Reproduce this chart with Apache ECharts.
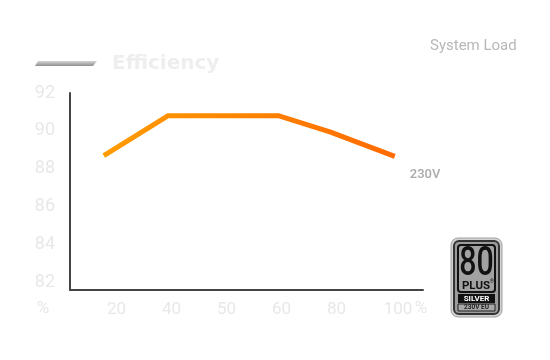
<!DOCTYPE html>
<html>
<head>
<meta charset="utf-8">
<script src="https://cdn.jsdelivr.net/npm/echarts@6/dist/echarts.min.js"></script>
<style>html,body{margin:0;padding:0;background:#fff;}#c{width:550px;height:360px;}</style>
</head>
<body>
<div id="c"></div>
<script>
// x labels (category positions 0..5 on the load axis)
var xLabels = ['20', '40', '50', '60', '80', '100'];
var xTickPos = [0, 1, 2, 3, 4, 5];
var yTicks = [82, 84, 86, 88, 90, 92];
// line points: [position on load axis, efficiency %]
var loadPos = [-0.23, 0.94, 2.94, 3.88, 5.06];
var efficiency = [88.7, 90.8, 90.8, 89.95, 88.65];
var seriesName = 'Efficiency';
var endText = '230V';

var chart = echarts.init(document.getElementById('c'), null, {renderer: 'canvas'});
var pts = loadPos.map(function (x, i) { return [x, efficiency[i]]; });

chart.setOption({
  animation: false,
  backgroundColor: '#ffffff',
  title: {
    text: seriesName,
    left: 112, top: 54, padding: 0,
    textStyle: {color: '#eeeeee', fontSize: 20, fontWeight: 'bold', fontFamily: 'DejaVu Sans'}
  },
  grid: {left: 70, right: 127, top: 93, bottom: 70, containLabel: false},
  xAxis: {
    type: 'value', min: -0.845, max: 5.573,
    axisLine: {show: true, onZero: false, lineStyle: {color: '#444444', width: 2}},
    axisTick: {show: false},
    splitLine: {show: false},
    axisLabel: {
      customValues: xTickPos,
      color: '#e8e8e8', fontSize: 17, fontFamily: 'Roboto', margin: 11,
      formatter: function (v) {
        var i = Math.round(v);
        if (i === xLabels.length - 1) return '{b|' + xLabels[i] + '}';
        return xLabels[i];
      },
      rich: {b: {color: '#e8e8e8', fontSize: 17, fontFamily: 'Roboto', padding: [0, 0, 0, 13]}}
    }
  },
  yAxis: {
    type: 'value', min: 81.6, max: 92,
    axisLine: {show: true, onZero: false, lineStyle: {color: '#444444', width: 2}},
    axisTick: {show: false},
    splitLine: {show: false},
    axisLabel: {
      customValues: yTicks,
      color: '#e8e8e8', fontSize: 18, fontFamily: 'Roboto', margin: 15
    }
  },
  series: [{
    name: seriesName,
    type: 'line',
    data: pts,
    symbol: 'none',
    lineStyle: {
      width: 5,
      color: new echarts.graphic.LinearGradient(0, 0, 1, 0, [
        {offset: 0, color: '#ff9c00'},
        {offset: 1, color: '#ff6a00'}
      ])
    },
    endLabel: {
      show: true, formatter: endText,
      color: '#aaaaaa', fontSize: 13, fontWeight: 500, fontFamily: 'Roboto',
      distance: 0, offset: [15, 18]
    }
  }],
  graphic: [
    {
      type: 'polygon',
      shape: {points: [[38, 61], [97, 61], [93, 66], [35, 66]]},
      style: {fill: new echarts.graphic.LinearGradient(0, 0, 0, 1, [
        {offset: 0, color: '#d6d6d6'}, {offset: 1, color: '#8e8e8e'}
      ])}
    },
    {type: 'text', x: 430, y: 46, style: {text: 'System Load', fill: '#b8b8b8', font: '15px Roboto', align: 'left', verticalAlign: 'middle'}},
    {type: 'text', x: 43, y: 309, style: {text: '%', fill: '#e8e8e8', font: '17px Roboto', align: 'center', verticalAlign: 'middle'}},
    {type: 'text', x: 421, y: 309, style: {text: '%', fill: '#e8e8e8', font: '17px Roboto', align: 'center', verticalAlign: 'middle'}},
    // 80 PLUS badge
    {type: 'rect', shape: {x: 451, y: 238, width: 51, height: 79, r: 7}, style: {fill: '#d2d2d2', stroke: '#a0a0a0', lineWidth: 1}},
    {type: 'rect', shape: {x: 454, y: 241, width: 45, height: 73, r: 5}, style: {fill: '#9c9c9c', stroke: '#333333', lineWidth: 2}},
    {type: 'rect', shape: {x: 458, y: 245, width: 37, height: 47, r: 3}, style: {fill: '#a2a2a2', stroke: '#111111', lineWidth: 2}},
    {type: 'text', x: 476.5, y: 265, scaleX: 0.74, style: {text: '80', fill: '#111111', font: '500 41px Roboto', align: 'center', verticalAlign: 'middle'}},
    {type: 'text', x: 476, y: 286.5, style: {text: 'PLUS', fill: '#111111', font: 'bold 11.5px Roboto', align: 'center', verticalAlign: 'middle'}},
    {type: 'text', x: 492, y: 282, style: {text: '®', fill: '#111111', font: '5px Roboto', align: 'center', verticalAlign: 'middle'}},
    {type: 'rect', shape: {x: 458, y: 294, width: 37, height: 9}, style: {fill: '#111111'}},
    {type: 'text', x: 476.5, y: 298.8, style: {text: 'SILVER', fill: '#ffffff', font: 'bold 8px Roboto', align: 'center', verticalAlign: 'middle'}},
    {type: 'rect', shape: {x: 458, y: 304, width: 37, height: 7}, style: {fill: '#a8a8a8', stroke: '#222222', lineWidth: 1}},
    {type: 'text', x: 476.5, y: 307.8, style: {text: '230V EU', fill: '#222222', font: 'bold 6.5px Roboto', align: 'center', verticalAlign: 'middle'}}
  ]
});
</script>
</body>
</html>
